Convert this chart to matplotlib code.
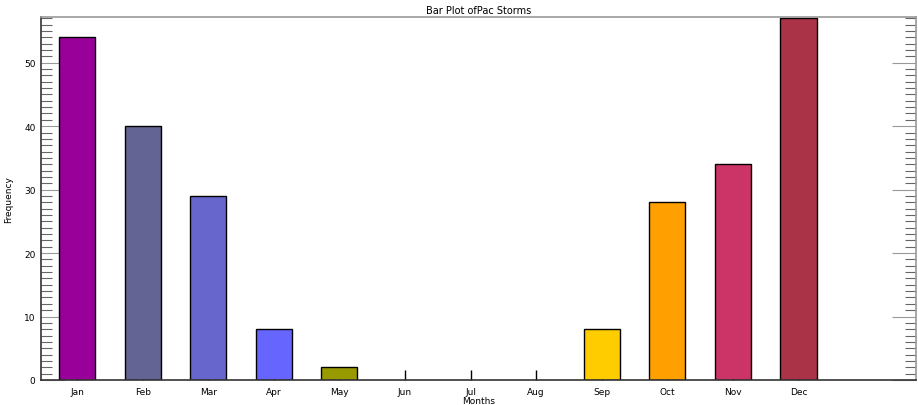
import matplotlib
matplotlib.use("Agg")
import matplotlib.pyplot as plt
from matplotlib.ticker import MultipleLocator

# monthly storm counts
months = ["Jan", "Feb", "Mar", "Apr", "May", "Jun", "Jul", "Aug", "Sep", "Oct", "Nov", "Dec"]
counts = [54, 40, 29, 8, 2, 0, 0, 0, 8, 28, 34, 57]
colors = ["#990099", "#636394", "#6666cc", "#6666ff", "#999900", "#ffffff",
          "#ffffff", "#ffffff", "#ffcc00", "#ff9f00", "#cc3366", "#aa3348"]

plt.rcParams["font.family"] = "DejaVu Sans"

fig = plt.figure(figsize=(9.18, 4.06), dpi=100)
ax = fig.add_axes([0.0447, 0.0616, 0.953, 0.894])

pos = list(range(1, len(months) + 1))
# empty months get no bar outline
keep = [i for i, c in enumerate(counts) if c > 0]
ax.bar([pos[i] for i in keep], [counts[i] for i in keep], width=0.55,
       color=[colors[i] for i in keep], edgecolor="black", linewidth=1.0, zorder=2)

ax.set_xlim(0.451, 13.79)
ax.set_ylim(0, 57.2)

ax.set_xticks(pos)
ax.set_xticklabels(months, fontsize=6.5)
ax.tick_params(axis="x", direction="in", length=7, width=1, color="black", pad=5)

ax.yaxis.set_major_locator(MultipleLocator(10))
ax.yaxis.set_minor_locator(MultipleLocator(1))
ax.tick_params(axis="y", which="major", direction="in", length=17, width=0.8,
               color="#999999", labelsize=6.5, right=True, pad=4)
ax.tick_params(axis="y", which="minor", direction="in", length=8, width=0.8,
               color="#666666", right=True)

for side in ["left", "bottom"]:
    ax.spines[side].set_color("#333333")
for side in ["top", "right"]:
    ax.spines[side].set_color("#999999")
for s in ax.spines.values():
    s.set_linewidth(1.2)

ax.set_title("Bar Plot ofPac Storms", fontsize=7, pad=3)
ax.set_xlabel("Months", fontsize=6.5, labelpad=0)
ax.set_ylabel("Frequency", fontsize=6.5, labelpad=8)

fig.savefig("out.png", dpi=100)
